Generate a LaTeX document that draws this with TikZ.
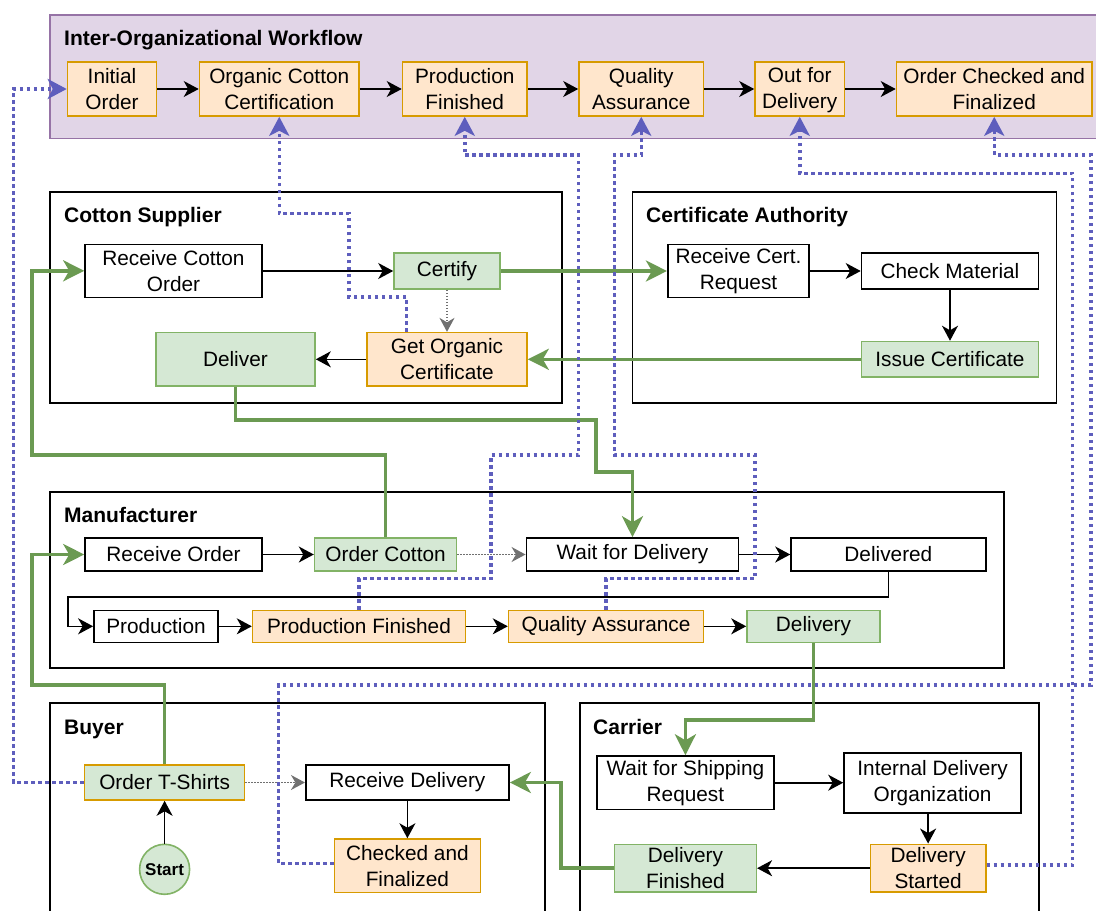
\documentclass[tikz,border=0pt]{standalone}
\usepackage{fontspec}
\setmainfont{Liberation Sans}
\usetikzlibrary{arrows.meta}

\definecolor{evtfill}{HTML}{FFE6CC}
\definecolor{evtline}{HTML}{D79B00}
\definecolor{actfill}{HTML}{D5E8D4}
\definecolor{actline}{HTML}{82B366}
\definecolor{wffill}{HTML}{E1D5E7}
\definecolor{wfline}{HTML}{9673A6}
\definecolor{flowgreen}{HTML}{6B9A52}
\definecolor{syncblue}{HTML}{5E5EBD}
\definecolor{hintgray}{HTML}{707070}

\begin{document}
\begin{tikzpicture}[x=1pt, y=-1pt,
  sz/.style 2 args={minimum width=#1pt, minimum height=#2pt},
  stepbox/.style={draw=black, fill=white, line width=1.6pt, inner sep=0pt,
    align=center, font={\fontsize{20.8}{26}\selectfont}},
  evtbox/.style={stepbox, draw=evtline, fill=evtfill},
  actbox/.style={stepbox, draw=actline, fill=actfill},
  lanebox/.style={draw=black, line width=1.8pt},
  lanetitle/.style={anchor=base west, inner sep=0pt,
    font={\fontsize{21}{25}\selectfont\bfseries}},
  blk/.style={draw=black, line width=1.6pt, -{Stealth[length=15pt,width=16pt,inset=4.5pt]}},
  hint/.style={draw=hintgray, line width=1.5pt, dash pattern=on 1.5pt off 1.5pt,
    -{Stealth[length=14pt,width=15pt,inset=4.5pt]}},
  flow/.style={draw=flowgreen, line width=3.5pt, -{Stealth[length=21pt,width=21pt,inset=6pt]}},
  sync/.style={draw=syncblue, line width=3.5pt, dash pattern=on 3.5pt off 3.5pt,
    -{Stealth[length=19pt,width=20pt,inset=5pt]}}
]
\useasboundingbox (0,0) rectangle (1096,911);
\clip (0,0) rectangle (1096,911);

% ---------- containers ----------
\draw[fill=wffill, draw=wfline, line width=1.5pt] (49.8,15) rectangle (1110,138.3);
\draw[lanebox] (49.75,191.7) rectangle (561.8,403.3);
\draw[lanebox] (632.5,191.7) rectangle (1056.4,403.3);
\draw[lanebox] (49.75,491.7) rectangle (1003.6,668.3);
\draw[lanebox] (50,703.3) rectangle (544.6,940);
\draw[lanebox] (579.7,703.3) rectangle (1039,940);

\node[lanetitle] (tWf)  at (64,45.5)  {Inter-Organizational Workflow};
\node[lanetitle] (tCs)  at (64,222.5) {Cotton Supplier};
\node[lanetitle] (tCa)  at (646,222.5) {Certificate Authority};
\node[lanetitle] (tMf)  at (64,522.5) {Manufacturer};
\node[lanetitle] (tBy)  at (64,734)   {Buyer};
\node[lanetitle] (tCr)  at (593,734)  {Carrier};

% ---------- workflow ----------
\node[evtbox, sz={89}{54}]    (wInit) at (112,89)    {Initial\\Order};
\node[evtbox, sz={159.5}{54}] (wCert) at (279.25,89) {Organic Cotton\\Certification};
\node[evtbox, sz={124.5}{54}] (wProd) at (464.75,89) {Production\\Finished};
\node[evtbox, sz={124.5}{54}] (wQA)   at (641.25,89) {Quality\\Assurance};
\node[evtbox, sz={89.5}{54}]  (wOut)  at (799.75,89) {Out for\strut\\Delivery};
\node[evtbox, sz={195.5}{54}] (wDone) at (994.25,89) {Order Checked and\\Finalized};

% ---------- cotton supplier ----------
\node[stepbox, sz={177}{53}]   (csRecv) at (173.5,270.8) {Receive Cotton\\Order};
\node[actbox,  sz={106}{36}]   (csCert) at (447,271)     {Certify};
\node[evtbox,  sz={160}{53.3}] (csGet)  at (447,359.3)   {Get Organic\\Certificate};
\node[actbox,  sz={159.2}{53.3}] (csDel) at (235.4,359.3) {Deliver};

% ---------- certificate authority ----------
\node[stepbox, sz={141.5}{53}] (caRecv)  at (738.5,270.8) {Receive Cert.\\Request};
\node[stepbox, sz={177}{35.5}] (caCheck) at (950,271)     {Check Material};
\node[actbox,  sz={177}{35.5}] (caIssue) at (950,359.3)   {Issue Certificate};

% ---------- manufacturer ----------
\node[stepbox, sz={177}{33}]   (mRecv)   at (173.5,554.5) {Receive Order};
\node[actbox,  sz={142}{33}]   (mOrder)  at (385.6,554.5) {Order Cotton};
\node[stepbox, sz={212.3}{33}] (mWait)   at (632.5,554.5) {Wait for Delivery};
\node[stepbox, sz={194.7}{33}] (mDelivd) at (888.4,554.5) {Delivered};
\node[stepbox, sz={124.2}{32}] (mProd)   at (156,626.3)   {Production};
\node[evtbox,  sz={212.8}{32}] (mPF)     at (359,626.3)   {Production Finished};
\node[evtbox,  sz={195}{32}]   (mQA)     at (606.1,626.3) {Quality Assurance};
\node[actbox,  sz={133}{32}]   (mDel)    at (813.5,626.3) {Delivery};

% ---------- buyer ----------
\node[actbox, draw=evtline, sz={160}{35}] (bOrder) at (164.6,782.5) {Order T-Shirts};
\node[circle, draw=actline, fill=actfill, line width=1.6pt, minimum size=50pt, inner sep=0pt,
      font={\fontsize{17}{20}\selectfont\bfseries}] (bStart) at (164.6,869.3) {Start};
\node[stepbox, sz={203.3}{35}]  (bRecv) at (407.4,782.5) {Receive Delivery};
\node[evtbox,  sz={146}{53.3}]  (bDone) at (407.4,865.7) {Checked and\\Finalized};

% ---------- carrier ----------
\node[stepbox, sz={177.3}{53.3}] (cWait)  at (685.4,782.7) {Wait for Shipping\\Request};
\node[stepbox, sz={177.2}{60}]   (cInt)   at (932.6,782.7) {Internal Delivery\\Organization};
\node[actbox,  sz={141.8}{47.7}] (cFin)   at (685.4,868.2) {Delivery\\Finished};
\node[evtbox,  sz={115.2}{47.7}] (cStart) at (928.1,868.2) {Delivery\\Started};

% ---------- sequence flow ----------
\draw[blk] (wInit) -- (wCert);
\draw[blk] (wCert) -- (wProd);
\draw[blk] (wProd) -- (wQA);
\draw[blk] (wQA) -- (wOut);
\draw[blk] (wOut) -- (wDone);

\draw[blk] (csRecv.east |- csCert.west) -- (csCert.west);
\draw[blk] (csGet.west) -- (csDel.east);
\draw[blk] (caRecv.east |- caCheck.west) -- (caCheck.west);
\draw[blk] (caCheck.south) -- (caIssue.north);

\draw[blk] (mRecv) -- (mOrder);
\draw[blk] (mWait) -- (mDelivd);
\draw[blk] (mDelivd.south) |- (67.7,597) |- (mProd.west);
\draw[blk] (mProd) -- (mPF);
\draw[blk] (mPF) -- (mQA);
\draw[blk] (mQA) -- (mDel);

\draw[blk] (bStart.north) -- (bOrder.south);
\draw[blk] (bRecv.south) -- (bDone.north);

\draw[blk] (cWait.east) -- (cInt.west);
\draw[blk] (cInt.south -| cStart.north) -- (cStart.north);
\draw[blk] (cStart.west) -- (cFin.east);

% ---------- implicit ordering ----------
\draw[hint] (csCert.south) -- (csGet.north);
\draw[hint] (mOrder.east) -- (mWait.west);
\draw[hint] (bOrder.east) -- (bRecv.west);

% ---------- messages between parties ----------
\draw[flow] (csCert.east) -- (caRecv.west |- csCert.east);
\draw[flow] (caIssue.west) -- (csGet.east);
\draw[flow] (csDel.south) |- (596,420) |- (632.5,472) -- (mWait.north);
\draw[flow] (mOrder.north) |- (32,455) |- (csRecv.west);
\draw[flow] (bOrder.north) |- (32,685) |- (mRecv.west);
\draw[flow] (mDel.south) |- (685.4,720) -- (cWait.north);
\draw[flow] (cFin.west) -| (561,782.5) -- (bRecv.east);

% ---------- links to the shared workflow ----------
\draw[sync] (bOrder.west) -| (13.6,89) -- (wInit.west);
\draw[sync] ([xshift=-40.6pt]csGet.north) |- (349,297) |- (279.25,213.3) -- (wCert.south);
\draw[sync] (mPF.north) |- (491,578.5) |- (578.7,455) |- (464.75,155) -- (wProd.south);
\draw[sync] (mQA.north) |- (754.8,578.5) |- (614.3,455) |- (641.25,155) -- (wQA.south);
\draw[sync] ([yshift=3pt]cStart.east) -| (1072.7,173.3) -| (wOut.south);
\draw[sync] ([yshift=2pt]bDone.west) -| (278.6,685) -| (1091,155) -| (wDone.south);
\end{tikzpicture}
\end{document}
